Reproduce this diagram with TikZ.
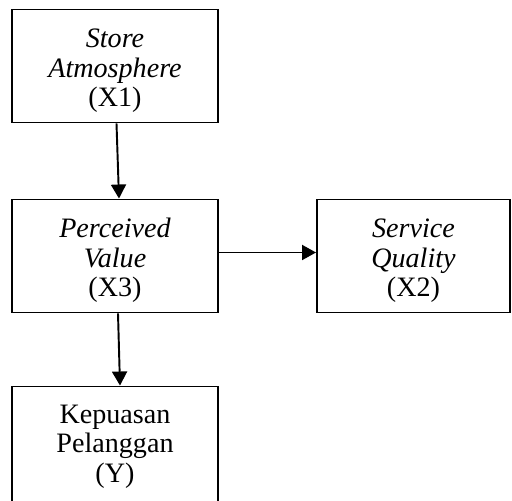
\documentclass[tikz,border=0pt]{standalone}
\usepackage{fontspec}
\setmainfont{Liberation Serif}
\usetikzlibrary{arrows.meta}

\begin{document}
\begin{tikzpicture}[>={Triangle[length=0.28cm,width=0.3cm]}, line width=1.1pt,
  var/.style={draw, text width=4.12cm, minimum height=2.26cm, inner sep=0pt,
    align=center, text height=0.56cm, font=\fontsize{16}{16.8}\selectfont}]
  \useasboundingbox (0,0) rectangle (10.24,-10.02);

  \node[var] (X1) at (2.30,-1.32) {\textit{Store}\\\textit{Atmosphere}\\(X1)};
  \node[var] (X3) at (2.30,-5.12) {\textit{Perceived}\\\textit{Value}\\(X3)};
  \node[var, text width=3.86cm] (X2) at (8.27,-5.12) {\textit{Service}\\\textit{Quality}\\(X2)};
  \node[var, text height=0.37cm, minimum height=2.4cm] (Y) at (2.30,-8.93)
    {Kepuasan\\Pelanggan\\(Y)};

  \draw[->] ([xshift=0.03cm]X1.south) -- ([xshift=0.08cm]X3.north);
  \draw[->] ([yshift=0.07cm]X3.east) -- ([yshift=0.07cm]X2.west);
  \draw[->] ([xshift=0.06cm]X3.south) -- ([xshift=0.1cm]Y.north);
\end{tikzpicture}
\end{document}
